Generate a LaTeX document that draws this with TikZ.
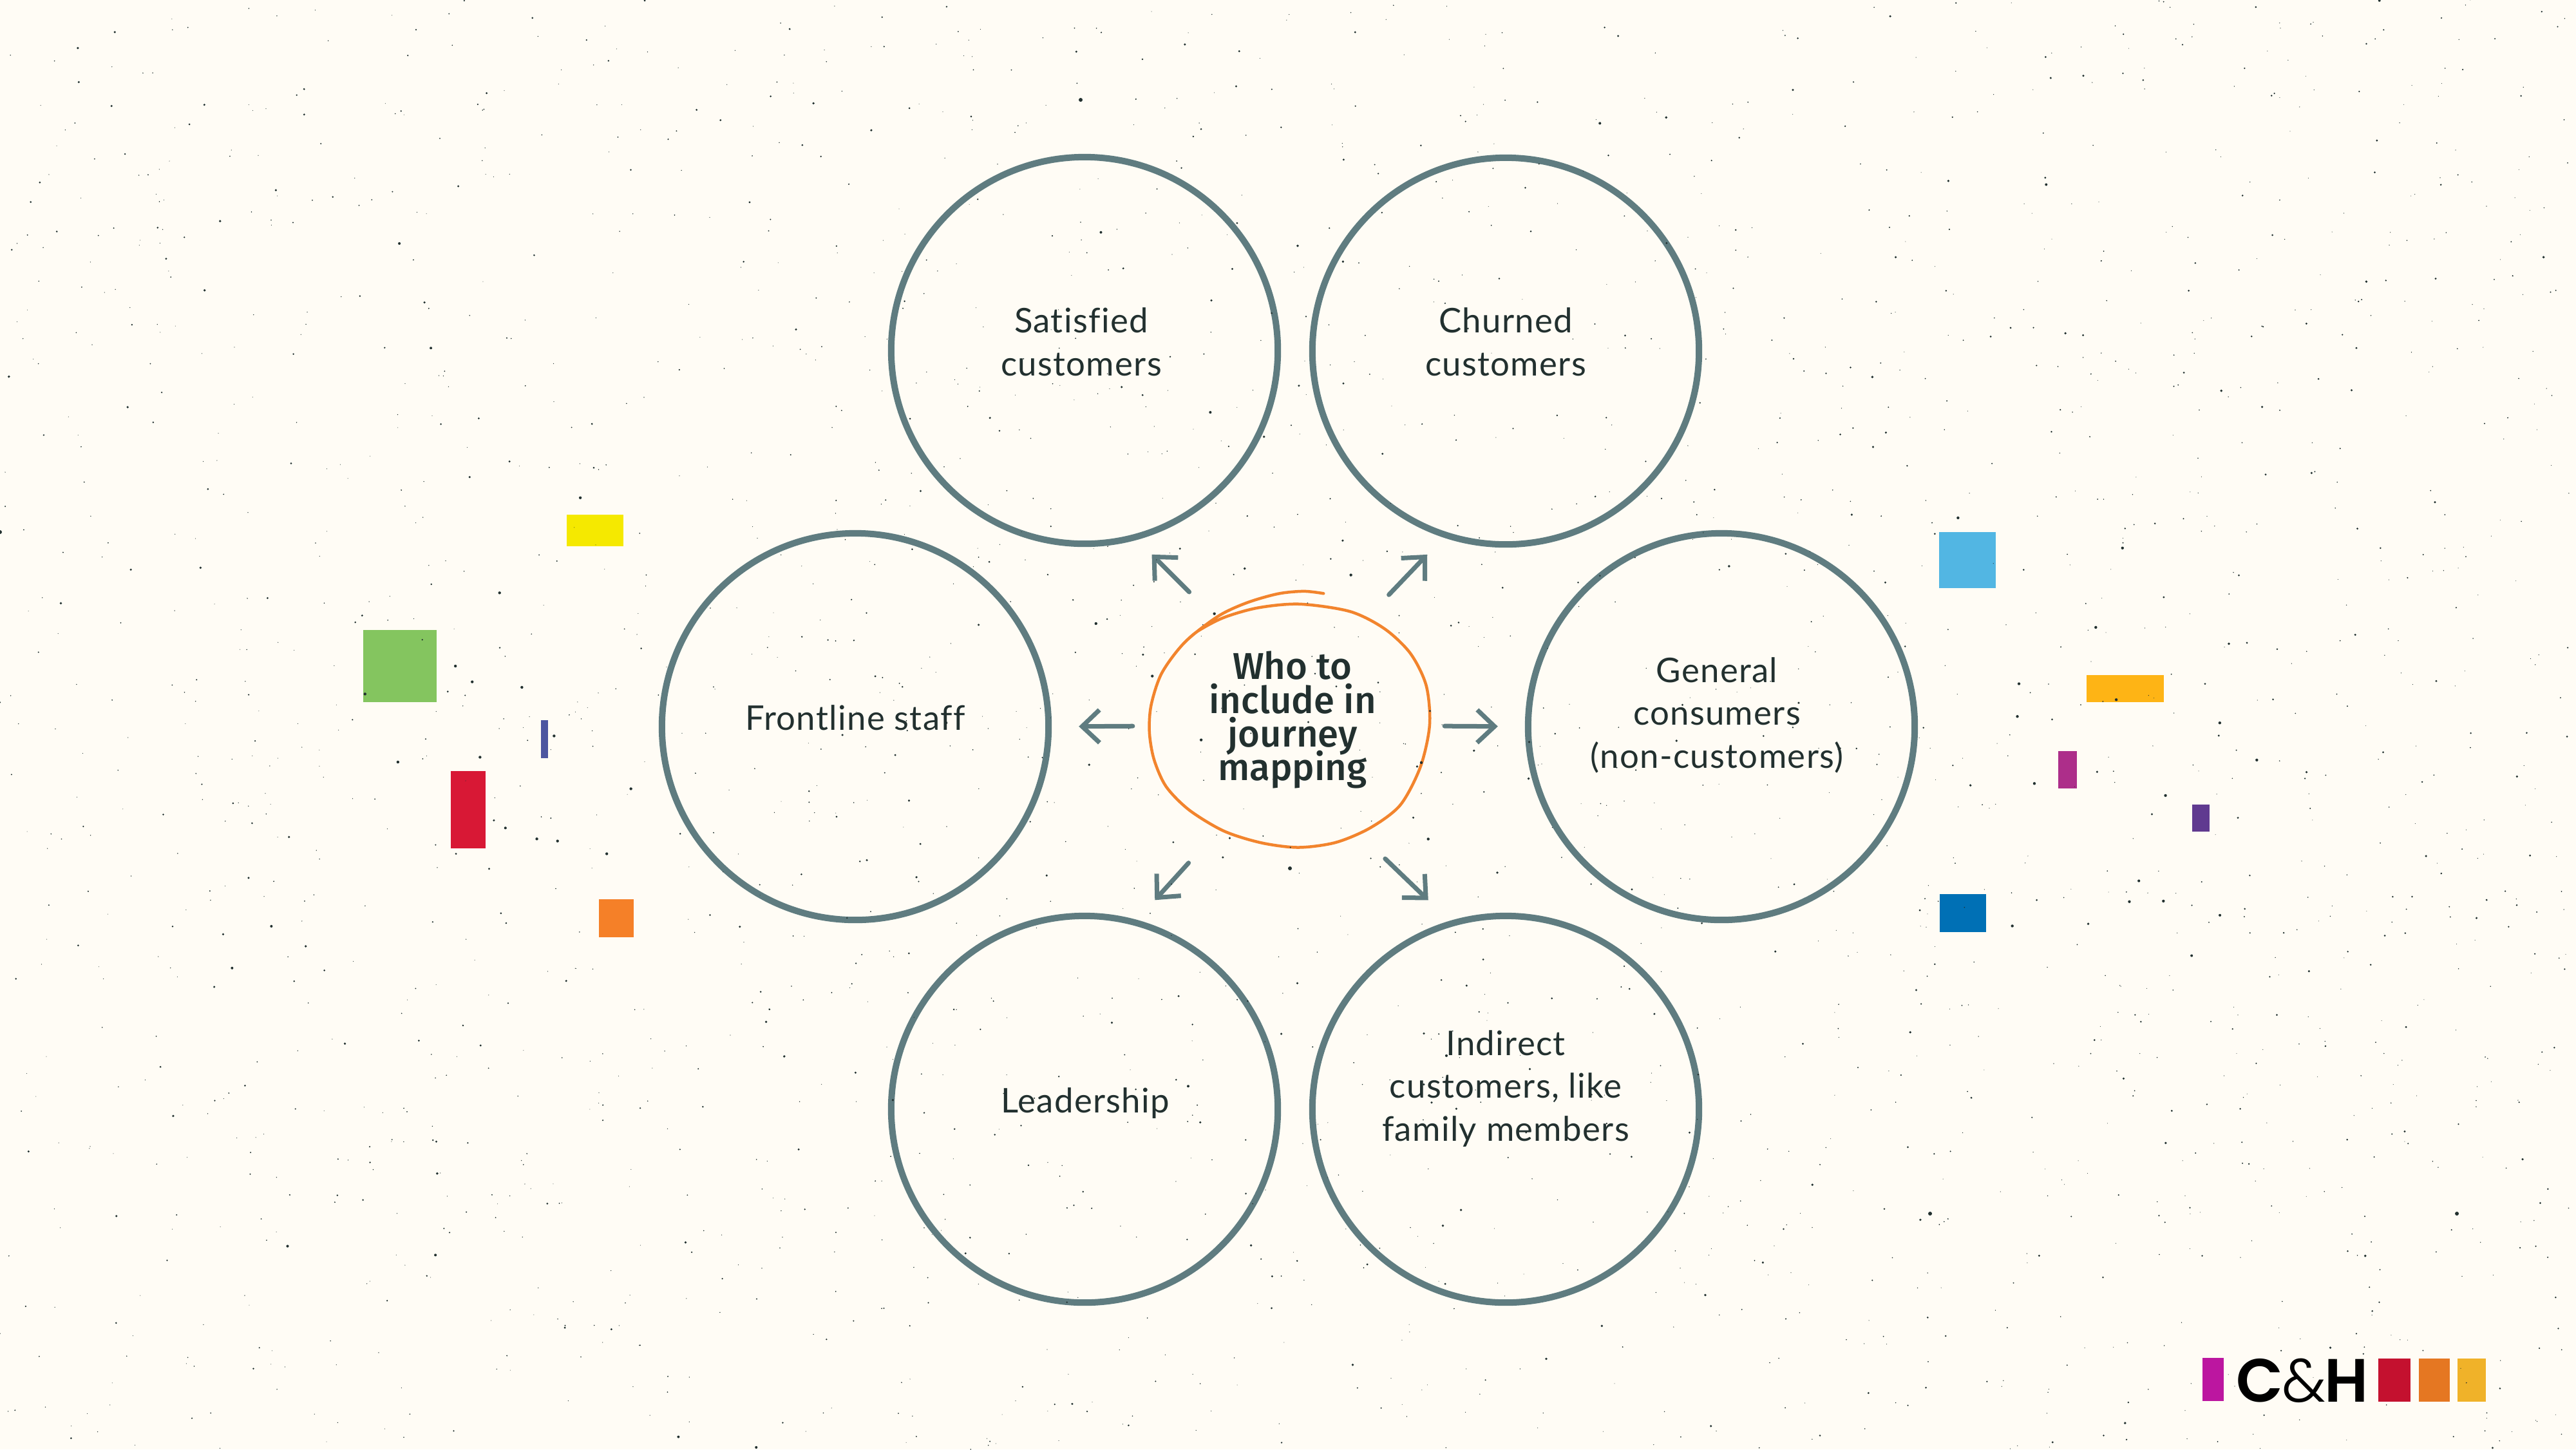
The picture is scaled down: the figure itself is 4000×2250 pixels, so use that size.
\documentclass[tikz,border=0pt]{standalone}
\usepackage{fontspec}
\usetikzlibrary{arrows.meta}
\setmainfont{Lato}[LetterSpace=2.5,Ligatures=NoCommon]
\newfontfamily\headfont{Fira Sans}[UprightFont=* Medium]
\newfontfamily\logobold{Poppins}[UprightFont=* SemiBold]
\newfontfamily\logolight{Poppins}[UprightFont=* Light]
\definecolor{paper}{HTML}{FFFCF5}
\definecolor{ring}{HTML}{5F7C80}
\definecolor{ink}{HTML}{22302F}
\definecolor{scribble}{HTML}{F2842D}
\lineskiplimit=-20pt
\newcommand{\hubfont}{\headfont\fontsize{16.5}{14.9}\selectfont}
\tikzset{
  person/.style={circle,draw=ring,line width=1mm,minimum size=6cm,inner sep=0pt,outer sep=0pt},
  ptext/.style={text=ink,align=center,anchor=base,font=\fontsize{15}{18.9}\selectfont,inner sep=0pt},
  hub/.style={circle,minimum size=4.3cm,inner sep=0pt,outer sep=0pt,text=ink,align=center,font=\hubfont},
  conn/.style={draw=ring,line width=0.7mm,line cap=round,-{Straight Barb[length=2.7mm,width=5.1mm]}},
  speck/.style={fill=ink,draw=none},
}
\begin{document}
\begin{tikzpicture}[x=0.01cm,y=-0.01cm]
\useasboundingbox (0,0) rectangle (4000,2250);
\fill[paper] (0,0) rectangle (4000,2250);
% coloured patches
\definecolor{c1}{HTML}{84C55F}\fill[c1] (564,978) rectangle (678,1090);
\definecolor{c2}{HTML}{F5E900}\fill[c2] (880,799) rectangle (968,848);
\definecolor{c3}{HTML}{4C56A0}\fill[c3] (840,1118) rectangle (851,1177);
\definecolor{c4}{HTML}{D81835}\fill[c4] (700,1197) rectangle (754,1317);
\definecolor{c5}{HTML}{F58028}\fill[c5] (930,1396) rectangle (984,1455);
\definecolor{c6}{HTML}{52B6E3}\fill[c6] (3011,826) rectangle (3099,913);
\definecolor{c7}{HTML}{FEB415}\fill[c7] (3240,1048) rectangle (3360,1090);
\definecolor{c8}{HTML}{AD2E8A}\fill[c8] (3196,1166) rectangle (3225,1224);
\definecolor{c9}{HTML}{603A90}\fill[c9] (3404,1249) rectangle (3431,1291);
\definecolor{c10}{HTML}{0070B5}\fill[c10] (3012,1388) rectangle (3084,1447);
% logo
\definecolor{l1}{HTML}{BC16A0}\fill[l1] (3420,2108) rectangle (3453,2175);
\definecolor{l2}{HTML}{C4112F}\fill[l2] (3693,2109) rectangle (3743,2176);
\definecolor{l3}{HTML}{E57722}\fill[l3] (3756,2109) rectangle (3804,2176);
\definecolor{l4}{HTML}{F0B229}\fill[l4] (3816,2109) rectangle (3860,2176);
\node[anchor=base,inner sep=0pt,text=black,font=\fontsize{27}{27}\selectfont] (logo) at (3575,2176) {\logobold C\kern-0.02em{\logolight\&}\kern-0.02em H};
% circles
\node[person] (sat) at (1684,544) {};
\node[person] (chu) at (2338,545) {};
\node[person] (fro) at (1328,1128) {};
\node[person] (gen) at (2673,1128) {};
\node[person] (lea) at (1684,1722) {};
\node[person] (ind) at (2338,1722) {};
\node[hub] (ctr) at (2007,1127) {Who to\\include in\\journey\\mapping\rule[-0.31cm]{0pt}{0pt}};
% labels
\node[ptext] (tsat) at (1679,583) {Satisfied\\customers};
\node[ptext] (tchu) at (2338,583) {Churned\\customers};
\node[ptext] (tfro) at (1328,1133) {Frontline staff};
\node[ptext] (tgen) at (2666,1192) {General\\consumers\\(non-customers)};
\node[ptext] (tlea) at (1685,1727) {Leadership};
\node[ptext] (tind) at (2338,1771) {Indirect\\customers, like\\family members};
% scribble
\begin{scope}[shift={(1650,800)},x=0.01cm/2.24,y=-0.01cm/2.613]
\draw[scribble,line width=0.45mm,line cap=round,line join=round] plot[smooth] coordinates {
(908,317)(840,308)(750,318)(640,355)(540,410)(425,515)(345,640)(308,770)(302,880)(318,990)(360,1100)(440,1195)(560,1280)(690,1328)(820,1347)(950,1327)(1070,1268)(1175,1175)(1245,1020)(1277,850)(1265,690)(1210,560)(1120,460)(1000,390)(825,360)(680,375)(560,415)(470,470)(425,515)};
\end{scope}
% connectors
\draw[conn,shorten <=4.8mm,shorten >=3.8mm] (ctr.126) -- (sat.285.3);
\draw[conn,shorten <=3.8mm,shorten >=4.2mm] (ctr.55.8) -- (chu.252.2);
\draw[conn,shorten <=3.3mm,shorten >=4.7mm] (ctr.180) -- (fro.0);
\draw[conn,shorten <=2.1mm,shorten >=4.7mm] (ctr.0) -- (gen.180);
\draw[conn,shorten <=5.2mm,shorten >=4.7mm] (ctr.234.9) -- (lea.75.8);
\draw[conn,shorten <=3.7mm,shorten >=5.2mm] (ctr.303.3) -- (ind.106.8);
% speckle
\pgfmathsetseed{4711}
\foreach \i in {1,...,2600}{
  \pgfmathsetmacro{\sx}{4000*rnd}
  \pgfmathsetmacro{\sy}{2250*rnd}
  \pgfmathsetmacro{\sr}{0.5+1.7*rnd*rnd}
  \fill[speck] (\sx,\sy) circle (\sr);
}
\begin{scope}[shift={(500,760)},x=0.01cm/2.8,y=-0.01cm/2.119]
\foreach \a/\b in {653/633,869/651,187/673,1123/27,330/897,1343/985,934/1150,1024/1157,1238/1199,1009/811,772/340,687/881,580/581}{\fill[speck] (\a,\b) circle [radius=0.022cm];}
\end{scope}
\begin{scope}[shift={(2950,800)},x=0.01cm/2.8,y=-0.01cm/2.306]
\foreach \a/\b in {253/9,968/117,852/401,941/660,1391/743,1552/876,511/720,518/603,585/960,1155/1003,998/1383,1146/1381,489/1470}{\fill[speck] (\a,\b) circle [radius=0.022cm];}
\end{scope}
\begin{scope}[shift={(1650,800)},x=0.01cm/2.24,y=-0.01cm/2.613]
\foreach \a/\b in {528/399,1003/242,312/652,116/439,482/911,1272/1313,1248/1003}{\fill[speck] (\a,\b) circle [radius=0.022cm];}
\end{scope}
\foreach \a/\b in {2997/1884,3815/1884,0/826,1678/155,2003/1348}{\fill[speck] (\a,\b) circle [radius=0.03cm];}
\end{tikzpicture}
\end{document}
